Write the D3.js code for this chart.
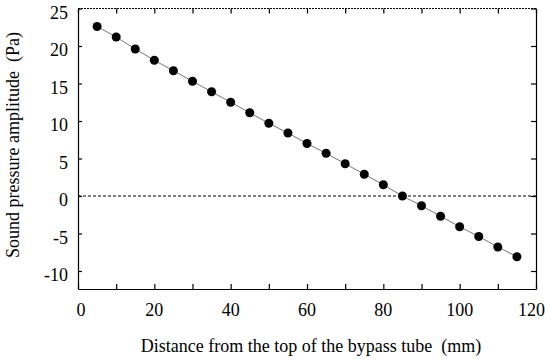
<!DOCTYPE html>
<html><head><meta charset="utf-8">
<script src="https://cdn.jsdelivr.net/npm/d3@7"></script>
<style>
html,body{margin:0;padding:0;background:#fff;}
</style></head>
<body>
<svg id="chart" width="545" height="361"></svg>
<script>
const distances = [5,10,15,20,25,30,35,40,45,50,55,60,65,70,75,80,85,90,95,100,105,110,115];
const amplitudes = [22.6,21.2,19.6,18.1,16.7,15.3,13.9,12.5,11.1,9.7,8.4,7.0,5.7,4.3,2.9,1.5,0.0,-1.3,-2.7,-4.1,-5.4,-6.8,-8.1];
const xTicks = [0,20,40,60,80,100,120];
const xMinorTicks = [0,10,20,30,40,50,60,70,80,90,100,110,120];
const yTicks = [-10,-5,0,5,10,15,20,25];
const xTitle = "Distance from the top of the bypass tube  (mm)";
const yTitle = "Sound pressure amplitude  (Pa)";

const FONT = "Liberation Serif, Times New Roman, serif";
const svg = d3.select("#chart");
const L = 78, R = 536, T = 8.5, B = 289;
const x = d3.scaleLinear().domain([0,120]).range([L,R]);
const y = d3.scaleLinear().domain([-12.4,25]).range([B,T]);
const fs = 18;

svg.append("line").attr("x1",L).attr("x2",R).attr("y1",y(0)).attr("y2",y(0))
  .attr("stroke","#000").attr("stroke-width",1).attr("stroke-dasharray","3,2");
svg.append("line").attr("x1",L).attr("x2",R).attr("y1",T).attr("y2",T)
  .attr("stroke","#000").attr("stroke-width",1.2).attr("stroke-dasharray","2,1");

const xb = d3.axisBottom(x).tickValues(xMinorTicks).tickSizeInner(-5).tickSizeOuter(0).tickFormat("");
svg.append("g").attr("transform",`translate(0,${B})`).call(xb)
  .call(g=>g.selectAll("line,path").attr("stroke","#000").attr("stroke-width",1.2));
const xt = d3.axisTop(x).tickValues(xMinorTicks).tickSizeInner(-5).tickSizeOuter(0).tickFormat("");
svg.append("g").attr("transform",`translate(0,${T})`).call(xt)
  .call(g=>g.select("path").remove())
  .call(g=>g.selectAll("line").attr("stroke","#000").attr("stroke-width",1.2));
const yl = d3.axisLeft(y).tickValues(yTicks).tickSizeInner(-4).tickSizeOuter(0).tickFormat("");
svg.append("g").attr("transform",`translate(${L},0)`).call(yl)
  .call(g=>g.selectAll("line,path").attr("stroke","#000").attr("stroke-width",1.2));
const yr = d3.axisRight(y).tickValues(yTicks).tickSizeInner(-5).tickSizeOuter(0).tickFormat("");
svg.append("g").attr("transform",`translate(${R},0)`).call(yr)
  .call(g=>g.selectAll("line,path").attr("stroke","#000").attr("stroke-width",1.2));

svg.append("g").selectAll("text").data(xTicks).join("text")
  .attr("x",d=>d===0 ? x(d)+3 : (d===120 ? 545 : x(d)))
  .attr("y",316).attr("text-anchor",d=>d===120?"end":"middle")
  .attr("font-family",FONT).attr("font-size",fs).text(d=>d);
svg.append("g").selectAll("text").data(yTicks).join("text")
  .attr("x",68).attr("y",d=>y(d)+10).attr("text-anchor","end")
  .attr("font-family",FONT).attr("font-size",fs).text(d=>d);

svg.append("text").attr("x",(L+R)/2+4).attr("y",352).attr("text-anchor","middle")
  .attr("font-family",FONT).attr("font-size",fs).style("white-space","pre").text(xTitle);
svg.append("text").attr("transform",`translate(19,145) rotate(-90)`).attr("text-anchor","middle")
  .attr("font-family",FONT).attr("font-size",fs).style("white-space","pre").text(yTitle);

const data = distances.map((d,i)=>({x:d,y:amplitudes[i]}));
svg.append("path").datum(data)
  .attr("d",d3.line().x(d=>x(d.x)).y(d=>y(d.y)))
  .attr("fill","none").attr("stroke","#777").attr("stroke-width",1);
svg.append("g").selectAll("circle").data(data).join("circle")
  .attr("cx",d=>x(d.x)).attr("cy",d=>y(d.y)).attr("r",4.5).attr("fill","#000");
</script>
</body></html>
